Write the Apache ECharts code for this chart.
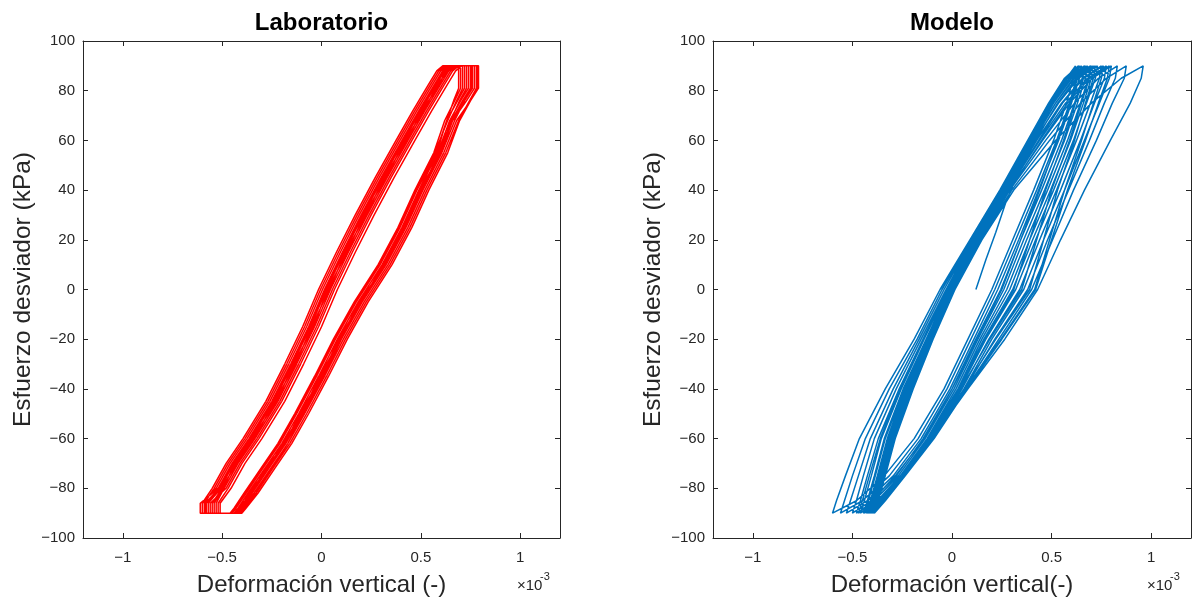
<!DOCTYPE html>
<html>
<head>
<meta charset="utf-8">
<script src="https://cdn.jsdelivr.net/npm/echarts@6/dist/echarts.min.js"></script>
<style>
html,body{margin:0;padding:0;background:#fff;overflow:hidden;}
#chart{width:1196px;height:598px;}
</style>
</head>
<body>
<div id="chart"></div>
<script>
// ---------- axis ticks ----------
const xTicks = [-1, -0.5, 0, 0.5, 1];          // x 10^-3
const yMin = -100, yMax = 100, yStep = 20;

// ---------- Laboratorio (strain in 1e-3, stress in kPa) ----------
const labLoadStress   = [-90,-86,-80,-70,-60,-45,-30,-15,0,15,30,45,60,72,82,88,90];
const labUnloadStress = [90,81,76,68,55,40,25,10,-5,-20,-35,-50,-62,-72,-82,-88,-90];

const labLoad1   = [-0.60,-0.60,-0.53,-0.46,-0.375,-0.26,-0.165,-0.075,0.005,0.095,0.19,0.29,0.395,0.48,0.555,0.60,0.63];
const labUnload1 = [0.70,0.70,0.67,0.62,0.565,0.47,0.385,0.285,0.165,0.06,-0.035,-0.135,-0.22,-0.305,-0.39,-0.44,-0.46];
const labLoad2   = [-0.58,-0.58,-0.51,-0.44,-0.355,-0.24,-0.145,-0.055,0.025,0.115,0.21,0.31,0.415,0.50,0.575,0.62,0.65];
const labUnload2 = [0.74,0.74,0.70,0.645,0.585,0.49,0.405,0.305,0.185,0.08,-0.015,-0.115,-0.20,-0.285,-0.37,-0.42,-0.44];
const labLoad3   = [-0.55,-0.55,-0.50,-0.43,-0.345,-0.23,-0.135,-0.045,0.035,0.125,0.22,0.32,0.425,0.51,0.585,0.63,0.66];
const labUnload3 = [0.77,0.77,0.73,0.66,0.595,0.50,0.415,0.315,0.195,0.09,-0.005,-0.105,-0.19,-0.275,-0.36,-0.41,-0.43];
const labLoad4   = [-0.56,-0.56,-0.48,-0.41,-0.325,-0.21,-0.115,-0.025,0.055,0.145,0.24,0.34,0.445,0.53,0.605,0.65,0.68];
const labUnload4 = [0.79,0.79,0.75,0.68,0.615,0.52,0.435,0.335,0.215,0.11,0.015,-0.085,-0.17,-0.255,-0.34,-0.395,-0.41];
const labLoad5   = [-0.61,-0.61,-0.52,-0.45,-0.365,-0.25,-0.155,-0.065,0.015,0.105,0.20,0.30,0.405,0.49,0.565,0.61,0.64];
const labUnload5 = [0.72,0.72,0.685,0.63,0.575,0.48,0.395,0.295,0.175,0.07,-0.025,-0.125,-0.21,-0.295,-0.38,-0.43,-0.45];
const labLoad6   = [-0.53,-0.53,-0.49,-0.42,-0.335,-0.22,-0.125,-0.035,0.045,0.135,0.23,0.33,0.435,0.52,0.595,0.64,0.67];
const labUnload6 = [0.76,0.76,0.72,0.67,0.605,0.51,0.425,0.325,0.205,0.10,0.005,-0.095,-0.18,-0.265,-0.35,-0.40,-0.42];
const labLoad7   = [-0.52,-0.52,-0.47,-0.40,-0.315,-0.20,-0.105,-0.015,0.065,0.155,0.25,0.35,0.455,0.54,0.615,0.66,0.69];
const labUnload7 = [0.78,0.78,0.745,0.69,0.625,0.53,0.445,0.345,0.225,0.12,0.025,-0.075,-0.16,-0.245,-0.33,-0.39,-0.41];
const labLoad8   = [-0.59,-0.59,-0.54,-0.47,-0.385,-0.27,-0.175,-0.085,-0.005,0.085,0.18,0.28,0.385,0.47,0.545,0.59,0.62];
const labUnload8 = [0.69,0.69,0.665,0.63,0.58,0.49,0.41,0.31,0.20,0.10,0.01,-0.09,-0.17,-0.25,-0.33,-0.385,-0.41];
const labLoad9   = [-0.57,-0.57,-0.505,-0.425,-0.34,-0.235,-0.13,-0.05,0.04,0.12,0.225,0.315,0.43,0.505,0.59,0.625,0.665];
const labUnload9 = [0.75,0.75,0.71,0.655,0.59,0.505,0.41,0.32,0.19,0.095,-0.01,-0.10,-0.195,-0.27,-0.365,-0.405,-0.435];
const labLoad10   = [-0.54,-0.54,-0.495,-0.435,-0.35,-0.225,-0.14,-0.04,0.03,0.13,0.215,0.325,0.42,0.515,0.58,0.635,0.655];
const labUnload10 = [0.73,0.73,0.695,0.65,0.60,0.495,0.42,0.31,0.20,0.085,0.0,-0.11,-0.185,-0.28,-0.355,-0.415,-0.425];
const labLoad11   = [-0.60,-0.60,-0.55,-0.48,-0.395,-0.28,-0.185,-0.095,-0.015,0.075,0.17,0.27,0.375,0.46,0.535,0.58,0.61];
const labUnload11 = [0.71,0.71,0.68,0.635,0.57,0.475,0.39,0.29,0.17,0.065,-0.03,-0.13,-0.215,-0.30,-0.385,-0.435,-0.455];
const labLoad12   = [-0.51,-0.51,-0.455,-0.385,-0.30,-0.185,-0.09,0.0,0.08,0.17,0.265,0.365,0.47,0.555,0.63,0.675,0.705];
const labUnload12 = [0.785,0.785,0.75,0.695,0.635,0.54,0.455,0.355,0.235,0.13,0.035,-0.065,-0.15,-0.235,-0.32,-0.38,-0.40];
const labLoad13   = [-0.585,-0.585,-0.515,-0.445,-0.36,-0.245,-0.15,-0.06,0.02,0.11,0.205,0.305,0.41,0.495,0.57,0.615,0.645];
const labUnload13 = [0.755,0.755,0.715,0.66,0.60,0.505,0.42,0.32,0.20,0.095,0.0,-0.10,-0.185,-0.27,-0.355,-0.405,-0.425];

// ---------- Modelo ----------
const modelInitStrain = [0.12,0.17,0.22,0.27,0.40,0.50,0.575,0.62];
const modelInitStress = [0,12,23,35,60,75,85,90];
const modelLoadStress   = [-90,-85,-75,-60,-40,-20,0,20,40,60,75,85,90];
const modelUnloadStress = [90,85,75,60,40,20,0,-20,-40,-60,-75,-85,-90];

const modelUnload0  = [0.62,0.61,0.575,0.51,0.41,0.305,0.20,0.08,-0.04,-0.19,-0.34,-0.48,-0.60];
const modelLoad1    = [-0.60,-0.58,-0.535,-0.465,-0.335,-0.19,-0.06,0.09,0.24,0.38,0.485,0.565,0.635];
const modelUnload1  = [0.635,0.625,0.59,0.525,0.425,0.32,0.215,0.095,-0.025,-0.17,-0.315,-0.45,-0.56];
const modelLoad2    = [-0.56,-0.54,-0.50,-0.435,-0.315,-0.175,-0.05,0.095,0.245,0.385,0.49,0.575,0.65];
const modelUnload2  = [0.65,0.64,0.60,0.535,0.435,0.335,0.23,0.11,-0.01,-0.155,-0.295,-0.425,-0.53];
const modelLoad3    = [-0.53,-0.51,-0.47,-0.41,-0.295,-0.165,-0.04,0.10,0.25,0.39,0.495,0.58,0.665];
const modelUnload3  = [0.665,0.655,0.615,0.55,0.45,0.345,0.245,0.12,0.0,-0.145,-0.28,-0.405,-0.50];
const modelLoad4    = [-0.50,-0.48,-0.445,-0.39,-0.28,-0.155,-0.03,0.105,0.255,0.395,0.50,0.59,0.68];
const modelUnload4  = [0.68,0.67,0.63,0.565,0.465,0.36,0.26,0.13,0.01,-0.135,-0.27,-0.39,-0.48];
const modelLoad5    = [-0.48,-0.46,-0.425,-0.37,-0.265,-0.145,-0.025,0.11,0.26,0.40,0.51,0.60,0.695];
const modelUnload5  = [0.695,0.685,0.645,0.58,0.48,0.375,0.275,0.14,0.02,-0.125,-0.26,-0.375,-0.46];
const modelLoad6    = [-0.46,-0.44,-0.405,-0.355,-0.255,-0.14,-0.02,0.115,0.265,0.405,0.52,0.615,0.71];
const modelUnload6  = [0.71,0.70,0.66,0.595,0.495,0.39,0.29,0.15,0.03,-0.115,-0.25,-0.365,-0.445];
const modelLoad7    = [-0.445,-0.425,-0.39,-0.34,-0.245,-0.13,-0.015,0.12,0.27,0.415,0.535,0.635,0.73];
const modelUnload7  = [0.73,0.72,0.675,0.61,0.51,0.405,0.305,0.16,0.035,-0.11,-0.245,-0.355,-0.43];
const modelLoad8    = [-0.43,-0.41,-0.375,-0.325,-0.235,-0.125,-0.01,0.125,0.275,0.425,0.55,0.655,0.75];
const modelUnload8  = [0.75,0.74,0.695,0.625,0.525,0.42,0.32,0.17,0.04,-0.105,-0.24,-0.35,-0.42];
const modelLoad9    = [-0.42,-0.40,-0.365,-0.315,-0.225,-0.12,-0.005,0.13,0.28,0.44,0.57,0.68,0.775];
const modelUnload9  = [0.775,0.765,0.715,0.645,0.545,0.44,0.34,0.185,0.05,-0.10,-0.24,-0.345,-0.41];
const modelLoad10   = [-0.41,-0.39,-0.355,-0.305,-0.215,-0.11,0.0,0.135,0.285,0.455,0.59,0.705,0.80];
const modelUnload10 = [0.80,0.79,0.74,0.665,0.565,0.46,0.36,0.20,0.06,-0.095,-0.235,-0.34,-0.40];
const modelLoad11   = [-0.40,-0.38,-0.345,-0.295,-0.205,-0.105,0.005,0.14,0.29,0.47,0.615,0.735,0.83];
const modelUnload11 = [0.83,0.82,0.765,0.69,0.585,0.48,0.38,0.215,0.065,-0.09,-0.235,-0.335,-0.395];
const modelLoad12   = [-0.395,-0.375,-0.34,-0.29,-0.20,-0.10,0.01,0.145,0.30,0.49,0.645,0.775,0.875];
const modelUnload12 = [0.875,0.865,0.805,0.725,0.61,0.505,0.40,0.235,0.07,-0.09,-0.24,-0.335,-0.39];
const modelLoad13   = [-0.39,-0.37,-0.335,-0.285,-0.195,-0.095,0.015,0.15,0.31,0.52,0.70,0.85,0.96];
const modelUnload13 = [0.96,0.95,0.895,0.795,0.665,0.545,0.43,0.265,0.08,-0.10,-0.26,-0.34,-0.39];
const modelLoad14   = [-0.39,-0.37,-0.34,-0.30,-0.215,-0.12,-0.01,0.11,0.255,0.39,0.49,0.57,0.64];
const modelUnload14 = [0.64,0.63,0.595,0.53,0.44,0.345,0.25,0.125,0.0,-0.14,-0.285,-0.40,-0.47];
const modelLoad15   = [-0.47,-0.45,-0.415,-0.36,-0.26,-0.14,-0.02,0.115,0.26,0.395,0.505,0.59,0.67];
const modelUnload15 = [0.67,0.66,0.62,0.56,0.47,0.39,0.31,0.165,0.03,-0.12,-0.26,-0.37,-0.44];
const modelLoad16   = [-0.44,-0.42,-0.385,-0.335,-0.24,-0.125,-0.01,0.12,0.27,0.41,0.52,0.61,0.70];
const modelUnload16 = [0.70,0.69,0.65,0.59,0.50,0.425,0.35,0.19,0.045,-0.11,-0.25,-0.36,-0.425];
const modelLoad17   = [-0.425,-0.405,-0.37,-0.32,-0.23,-0.12,-0.005,0.125,0.275,0.42,0.53,0.625,0.72];
const modelUnload17 = [0.72,0.71,0.67,0.615,0.53,0.46,0.39,0.22,0.06,-0.10,-0.245,-0.35,-0.415];
const modelLoad18   = [-0.415,-0.395,-0.36,-0.31,-0.22,-0.115,0.0,0.13,0.28,0.435,0.555,0.66,0.76];
const modelUnload18 = [0.76,0.75,0.71,0.65,0.565,0.49,0.415,0.245,0.07,-0.095,-0.24,-0.345,-0.405];
const modelLoad19   = [-0.405,-0.385,-0.35,-0.30,-0.21,-0.105,0.005,0.14,0.29,0.45,0.58,0.69,0.79];
const modelUnload19 = [0.79,0.78,0.735,0.67,0.58,0.50,0.42,0.25,0.075,-0.09,-0.235,-0.34,-0.40];

// ---------- build paths ----------
function zip(strain, stress) { return strain.map((x, i) => [x, stress[i]]); }

const labLoads = [labLoad1,labLoad2,labLoad3,labLoad4,labLoad5,labLoad6,labLoad7,labLoad8,labLoad9,labLoad10,labLoad11,labLoad12,labLoad13];
const labUnloads = [labUnload1,labUnload2,labUnload3,labUnload4,labUnload5,labUnload6,labUnload7,labUnload8,labUnload9,labUnload10,labUnload11,labUnload12,labUnload13];
let labPath = [];
labLoads.forEach((ld, i) => {
  labPath = labPath.concat(zip(ld, labLoadStress), zip(labUnloads[i], labUnloadStress));
});

const modelLoads = [modelLoad1,modelLoad2,modelLoad3,modelLoad4,modelLoad5,modelLoad6,modelLoad7,modelLoad8,modelLoad9,modelLoad10,
                    modelLoad11,modelLoad12,modelLoad13,modelLoad14,modelLoad15,modelLoad16,modelLoad17,modelLoad18,modelLoad19];
const modelUnloads = [modelUnload1,modelUnload2,modelUnload3,modelUnload4,modelUnload5,modelUnload6,modelUnload7,modelUnload8,modelUnload9,modelUnload10,
                      modelUnload11,modelUnload12,modelUnload13,modelUnload14,modelUnload15,modelUnload16,modelUnload17,modelUnload18,modelUnload19];
let modelPath = zip(modelInitStrain, modelInitStress).concat(zip(modelUnload0, modelUnloadStress));
modelLoads.forEach((ld, i) => {
  modelPath = modelPath.concat(zip(ld, modelLoadStress), zip(modelUnloads[i], modelUnloadStress));
});

// ---------- chart ----------
const FONT = 'Liberation Sans, Arial, Helvetica, sans-serif';
const AX = '#262626';
const minus = v => String(v).replace('-', '\u2212');

function xAx(grid, pos, name) {
  const a = {
    type: 'value', gridIndex: grid, position: pos, min: -1.2, max: 1.2,
    axisLine: { show: true, onZero: false, lineStyle: { color: AX, width: 1 } },
    axisTick: { show: true, inside: true, length: 5, customValues: xTicks, lineStyle: { color: AX } },
    axisLabel: { show: pos === 'bottom', customValues: xTicks, formatter: minus,
                 color: AX, fontSize: 15, fontFamily: FONT, margin: 12 },
    splitLine: { show: false }
  };
  if (name) {
    a.name = name; a.nameLocation = 'middle'; a.nameGap = 35;
    a.nameTextStyle = { color: AX, fontSize: 24, fontFamily: FONT };
  }
  return a;
}
function yAx(grid, pos, name) {
  const a = {
    type: 'value', gridIndex: grid, position: pos, min: yMin, max: yMax, interval: yStep,
    axisLine: { show: true, onZero: false, lineStyle: { color: AX, width: 1 } },
    axisTick: { show: true, inside: true, length: 5, lineStyle: { color: AX } },
    axisLabel: { show: pos === 'left', formatter: minus, color: AX, fontSize: 15, fontFamily: FONT, margin: 8 },
    splitLine: { show: false }
  };
  if (name) {
    a.name = name; a.nameLocation = 'middle'; a.nameGap = 47;
    a.nameTextStyle = { color: AX, fontSize: 24.5, fontFamily: FONT };
  }
  return a;
}

const chart = echarts.init(document.getElementById('chart'), null, { renderer: 'canvas', width: 1196, height: 598 });
chart.setOption({
  animation: false,
  backgroundColor: '#ffffff',
  textStyle: { fontFamily: FONT },
  grid: [
    { left: 83, top: 41, width: 477, height: 497, outerBoundsMode: 'none', containLabel: false },
    { left: 713, top: 41, width: 478, height: 497, outerBoundsMode: 'none', containLabel: false }
  ],
  xAxis: [
    xAx(0, 'bottom', 'Deformación vertical (-)'), xAx(0, 'top'),
    xAx(1, 'bottom', 'Deformación vertical(-)'), xAx(1, 'top')
  ],
  yAxis: [
    yAx(0, 'left', 'Esfuerzo desviador (kPa)'), yAx(0, 'right'),
    yAx(1, 'left', 'Esfuerzo desviador (kPa)'), yAx(1, 'right')
  ],
  graphic: [
    { type: 'text', x: 321.5, y: 11, style: { text: 'Laboratorio', fill: '#000', font: 'bold 24px ' + FONT, align: 'center', verticalAlign: 'top' } },
    { type: 'text', x: 952, y: 11, style: { text: 'Modelo', fill: '#000', font: 'bold 24px ' + FONT, align: 'center', verticalAlign: 'top' } },
    { type: 'text', x: 517, y: 578, style: { text: '\u00d710', fill: AX, font: '15px ' + FONT, align: 'left', verticalAlign: 'top' } },
    { type: 'text', x: 540, y: 571, style: { text: '-3', fill: AX, font: '11px ' + FONT, align: 'left', verticalAlign: 'top' } },
    { type: 'text', x: 1147, y: 578, style: { text: '\u00d710', fill: AX, font: '15px ' + FONT, align: 'left', verticalAlign: 'top' } },
    { type: 'text', x: 1170, y: 571, style: { text: '-3', fill: AX, font: '11px ' + FONT, align: 'left', verticalAlign: 'top' } }
  ],
  series: [
    { type: 'line', xAxisIndex: 0, yAxisIndex: 0, data: labPath, showSymbol: false, symbol: 'none',
      lineStyle: { color: '#FF0000', width: 1.5 }, itemStyle: { color: '#FF0000' }, clip: true },
    { type: 'line', xAxisIndex: 2, yAxisIndex: 2, data: modelPath, showSymbol: false, symbol: 'none',
      lineStyle: { color: '#0072BD', width: 1.5 }, itemStyle: { color: '#0072BD' }, clip: true }
  ]
});
</script>
</body>
</html>
